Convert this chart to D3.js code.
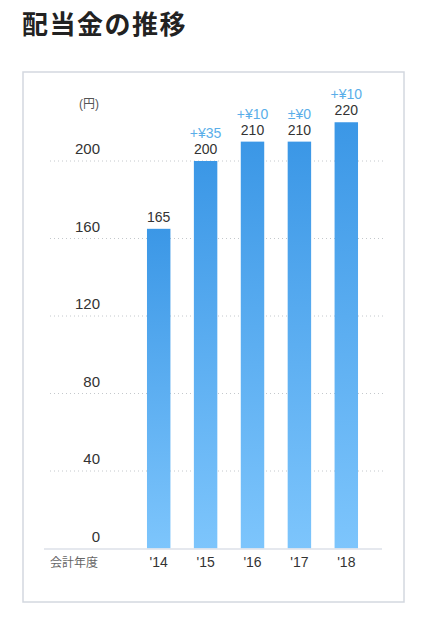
<!DOCTYPE html>
<html>
<head>
<meta charset="utf-8">
<script src="https://cdn.jsdelivr.net/npm/d3@7/dist/d3.min.js"></script>
<style>
  html, body { margin: 0; padding: 0; background: #fff; }
  svg { display: block; }
</style>
</head>
<body>
<svg id="chart" width="429" height="619"></svg>
<script>
const title = "配当金の推移";
const years = ["'14", "'15", "'16", "'17", "'18"];
const dividends = [165, 200, 210, 210, 220];
const changes = [null, "+¥35", "+¥10", "±¥0", "+¥10"];
const yTicks = [0, 40, 80, 120, 160, 200];
const yUnit = "(円)";
const xAxisTitle = "会計年度";

const svg = d3.select("#chart");
const latin = "'Liberation Sans', Arial, 'Noto Sans CJK JP', sans-serif";
const cjk = "'Noto Sans CJK JP', 'Noto Sans', sans-serif";

// title
svg.append("text")
  .attr("x", 22).attr("y", 34)
  .attr("font-family", cjk)
  .attr("font-weight", 700)
  .attr("font-size", 26)
  .attr("letter-spacing", 1.5)
  .attr("fill", "#222")
  .text(title);

// frame
svg.append("rect")
  .attr("x", 23).attr("y", 72)
  .attr("width", 381).attr("height", 530)
  .attr("fill", "#fff")
  .attr("stroke", "#d3d8df")
  .attr("stroke-width", 1.5);

const y = d3.scaleLinear().domain([0, 200]).range([548.5, 161]);
const x = d3.scaleBand().domain(years).range([135.25, 369.75])
  .paddingInner(0.5).paddingOuter(0.25);

// gradient
const defs = svg.append("defs");
const grad = defs.append("linearGradient")
  .attr("id", "barGrad")
  .attr("x1", 0).attr("y1", 0).attr("x2", 0).attr("y2", 1);
grad.append("stop").attr("offset", "0%").attr("stop-color", "#3b97e6");
grad.append("stop").attr("offset", "100%").attr("stop-color", "#7dc5fc");

// gridlines
svg.append("g").selectAll("line")
  .data(yTicks.filter(d => d > 0))
  .join("line")
  .attr("x1", 50).attr("x2", 384)
  .attr("y1", d => y(d)).attr("y2", d => y(d))
  .attr("stroke", "#c4c8cc")
  .attr("stroke-width", 1)
  .attr("stroke-dasharray", "1,3");

// y tick labels
svg.append("g").selectAll("text")
  .data(yTicks)
  .join("text")
  .attr("x", 100)
  .attr("y", d => y(d) - 7)
  .attr("text-anchor", "end")
  .attr("font-family", latin)
  .attr("font-size", 15)
  .attr("fill", "#333")
  .text(d => d);

// unit
svg.append("text")
  .attr("x", 99).attr("y", 107.5)
  .attr("text-anchor", "end")
  .attr("font-family", latin)
  .attr("font-size", 12)
  .attr("fill", "#555")
  .text(yUnit);

// bars
svg.append("g").selectAll("rect")
  .data(dividends)
  .join("rect")
  .attr("x", (d, i) => x(years[i]))
  .attr("y", d => y(d))
  .attr("width", x.bandwidth())
  .attr("height", d => y(0) - y(d))
  .attr("fill", "url(#barGrad)");

// axis baseline
svg.append("line")
  .attr("x1", 44).attr("x2", 382)
  .attr("y1", y(0) + 0.5).attr("y2", y(0) + 0.5)
  .attr("stroke", "#dde1e8")
  .attr("stroke-width", 1.5);

// value labels
svg.append("g").selectAll("text")
  .data(dividends)
  .join("text")
  .attr("x", (d, i) => x(years[i]) + x.bandwidth() / 2)
  .attr("y", d => y(d) - 7)
  .attr("text-anchor", "middle")
  .attr("font-family", latin)
  .attr("font-size", 14)
  .attr("fill", "#333")
  .text(d => d);

// change labels
svg.append("g").selectAll("text")
  .data(changes.map((c, i) => ({c, i})).filter(d => d.c))
  .join("text")
  .attr("x", d => x(years[d.i]) + x.bandwidth() / 2)
  .attr("y", d => y(dividends[d.i]) - 23)
  .attr("text-anchor", "middle")
  .attr("font-family", latin)
  .attr("font-size", 14)
  .attr("fill", "#5aaee9")
  .text(d => d.c);

// x labels
svg.append("g").selectAll("text")
  .data(years)
  .join("text")
  .attr("x", d => x(d) + x.bandwidth() / 2)
  .attr("y", 567)
  .attr("text-anchor", "middle")
  .attr("font-family", latin)
  .attr("font-size", 14)
  .attr("fill", "#333")
  .text(d => d);

svg.append("text")
  .attr("x", 50).attr("y", 567)
  .attr("font-family", cjk)
  .attr("font-size", 12)
  .attr("fill", "#666")
  .text(xAxisTitle);
</script>
</body>
</html>
